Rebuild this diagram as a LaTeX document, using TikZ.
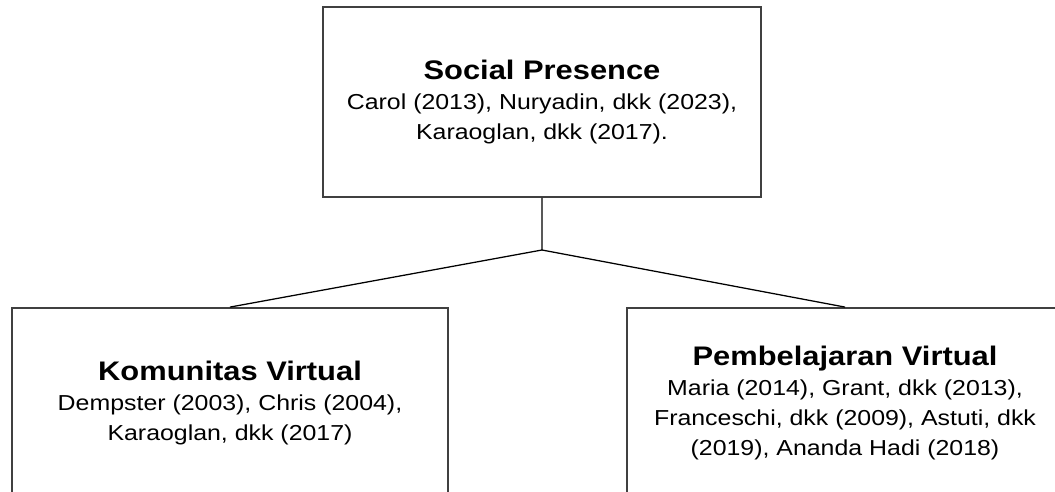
\documentclass[tikz,border=0pt]{standalone}
\usepackage{fontspec}
\setmainfont{Liberation Sans}[FakeStretch=1.15]

\newcommand{\boxtitle}[1]{{\fontsize{19.1}{21}\selectfont\bfseries #1}}

\begin{document}
\begin{tikzpicture}[box/.style={draw=black!75,line width=1.3pt,minimum width=10.9cm,minimum height=4.75cm,align=center,font=\fontsize{15.4}{21.4}\selectfont},
  link/.style={line width=0.9pt}]
 \clip (0,0) rectangle (26.375,-12.3);
 \node[box,minimum width=10.95cm] (presence) at (13.55,-2.55)
   {\boxtitle{Social Presence}\\Carol (2013), Nuryadin, dkk (2023),\\Karaoglan, dkk (2017).};
 \node[box] (komunitas) at (5.75,-10.075)
   {\boxtitle{Komunitas Virtual}\\Dempster (2003), Chris (2004),\\Karaoglan, dkk (2017)};
 \node[box] (pembelajaran) at (21.125,-10.075)
   {\boxtitle{Pembelajaran Virtual}\\Maria (2014), Grant, dkk (2013),\\Franceschi, dkk (2009), Astuti, dkk\\(2019), Ananda Hadi (2018)};
 \coordinate (fork) at (13.55,-6.25);
 \draw[link] (presence.south) -- (fork) -- (komunitas.north);
 \draw[link] (fork) -- (pembelajaran.north);
\end{tikzpicture}
\end{document}
